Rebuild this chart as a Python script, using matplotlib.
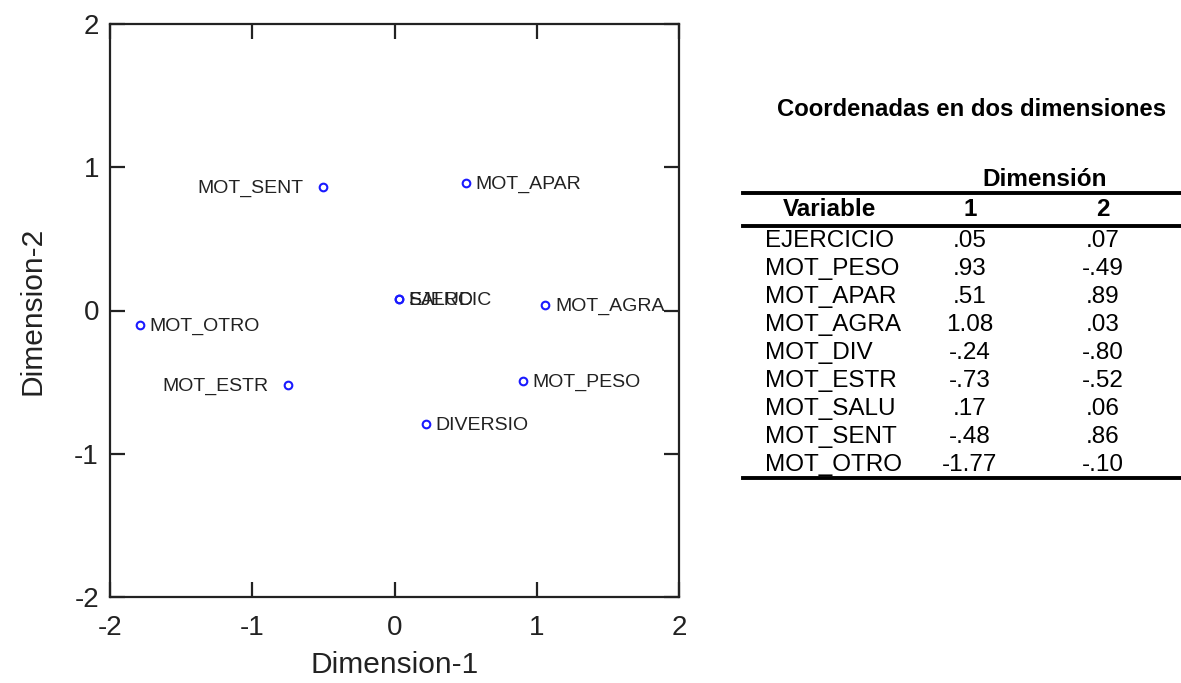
import matplotlib
matplotlib.use("Agg")
import matplotlib.pyplot as plt
from matplotlib.lines import Line2D

plt.rcParams['font.family'] = ['Liberation Sans', 'DejaVu Sans']

# ---- data: plotted points ----
plot_labels = ["MOT_SENT", "MOT_APAR", "EJERCIC", "SALUD", "MOT_OTRO",
               "MOT_AGRA", "MOT_ESTR", "MOT_PESO", "DIVERSIO"]
plot_x = [-0.50, 0.50, 0.03, 0.03, -1.79, 1.06, -0.75, 0.90, 0.22]
plot_y = [0.86, 0.89, 0.08, 0.08, -0.10, 0.04, -0.52, -0.49, -0.79]
label_side = ["left", "right", "right", "right", "right", "right", "left", "right", "right"]

# ---- data: table ----
table_title = "Coordenadas en dos dimensiones"
table_vars = ["EJERCICIO", "MOT_PESO", "MOT_APAR", "MOT_AGRA", "MOT_DIV",
              "MOT_ESTR", "MOT_SALU", "MOT_SENT", "MOT_OTRO"]
table_dim1 = [0.05, 0.93, 0.51, 1.08, -0.24, -0.73, 0.17, -0.48, -1.77]
table_dim2 = [0.07, -0.49, 0.89, 0.03, -0.80, -0.52, 0.06, 0.86, -0.10]

ticks = [-2, -1, 0, 1, 2]


def fmt(v):
    s = f"{v:.2f}"
    if abs(v) < 1:
        s = s.replace("0.", ".", 1)
    return s


W, H = 1181, 683
fig = plt.figure(figsize=(W / 100, H / 100), dpi=100)
fig.patch.set_facecolor("white")

ax = fig.add_axes([110 / W, 1 - 597 / H, (679 - 110) / W, (597 - 24) / H])
ax.set_xlim(-2, 2)
ax.set_ylim(-2, 2)
ax.set_xticks(ticks)
ax.set_yticks(ticks)
ax.set_xticklabels([str(t) for t in ticks])
ax.set_yticklabels([str(t) for t in ticks])
ax.tick_params(direction="in", length=11, width=1.6, top=True, right=True,
               labelsize=20, colors="#222222", pad=8)
ax.tick_params(axis="x", pad=13)
for sp in ax.spines.values():
    sp.set_linewidth(1.6)
    sp.set_color("#222222")
ax.set_xlabel("Dimension-1", fontsize=21.5, color="#222222", labelpad=7)
ax.set_ylabel("Dimension-2", fontsize=21.5, color="#222222", labelpad=20)

ax.plot(plot_x, plot_y, linestyle="none", marker="o", markersize=5.5,
        markerfacecolor="none", markeredgecolor="#1a1aff", markeredgewidth=1.5,
        clip_on=False)
for lab, x, y, side in zip(plot_labels, plot_x, plot_y, label_side):
    if side == "right":
        ax.annotate(lab, (x, y), xytext=(7, -1), textcoords="offset points",
                    ha="left", va="center", fontsize=14, color="#222222")
    else:
        ax.annotate(lab, (x, y), xytext=(-14, -1), textcoords="offset points",
                    ha="right", va="center", fontsize=14, color="#222222")

# ---- table drawn in pixel coordinates ----
tx = fig.add_axes([0, 0, 1, 1])
tx.set_xlim(0, W)
tx.set_ylim(H, 0)
tx.axis("off")
tx.patch.set_alpha(0)

fs = 17.5
tx.text(972, 110, table_title, ha="center", va="center", fontsize=17.2,
        fontweight="bold", color="black")
tx.text(1045, 179, "Dimensión", ha="center", va="center", fontsize=fs,
        fontweight="bold", color="black")
tx.text(830, 210, "Variable", ha="center", va="center", fontsize=fs,
        fontweight="bold", color="black")
tx.text(970, 210, "1", ha="center", va="center", fontsize=fs,
        fontweight="bold", color="black")
tx.text(1103, 210, "2", ha="center", va="center", fontsize=fs,
        fontweight="bold", color="black")

row0, step = 241, 28
for i, (v, d1, d2) in enumerate(zip(table_vars, table_dim1, table_dim2)):
    y = row0 + i * step
    tx.text(765, y, v, ha="left", va="center", fontsize=fs, color="black")
    tx.text(970, y, fmt(d1), ha="center", va="center", fontsize=fs, color="black")
    tx.text(1103, y, fmt(d2), ha="center", va="center", fontsize=fs, color="black")

for yl in (193, 226, 478):
    tx.add_line(Line2D([743, W], [yl, yl], color="black", linewidth=2.8))

fig.savefig("out.png", dpi=100, facecolor="white")
